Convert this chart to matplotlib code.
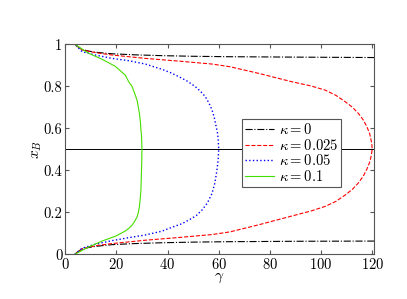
import matplotlib
matplotlib.use("Agg")
from matplotlib import pyplot as plt

plt.rcParams['font.family'] = 'serif'
plt.rcParams['font.serif'] = ['cmr10']
plt.rcParams['mathtext.fontset'] = 'cm'
plt.rcParams['axes.formatter.use_mathtext'] = True

# kappa = 0 (two branches)
gamma_k0_up = [3.8, 5.0, 6.6, 9.0, 12.0, 18.3, 27.0, 37.8, 50.0, 63.9, 90.0, 120.7]
xb_k0_up = [1.0, 0.988, 0.976, 0.968, 0.962, 0.955, 0.950, 0.946, 0.943, 0.941, 0.939, 0.937]
gamma_k0_lo = [3.8, 5.0, 6.6, 9.0, 12.0, 18.3, 27.0, 37.8, 50.0, 63.9, 90.0, 120.7]
xb_k0_lo = [0.0, 0.013, 0.024, 0.032, 0.038, 0.046, 0.051, 0.055, 0.058, 0.060, 0.062, 0.063]

# kappa = 0.025 (closed curve, bottom -> turning point -> top)
gamma_k1 = [3.8, 6.6, 12.0, 18.3, 31.3, 44.4, 57.4, 64.5, 75.5, 88.5, 96.0, 101.6, 105.8, 109.4, 112.3,
            114.6, 116.5, 117.9, 119.0, 119.6, 120.0,
            119.8, 119.0, 117.9, 116.5, 114.6, 112.3, 109.4, 105.8, 101.6, 96.0, 88.5, 75.5, 64.5,
            57.4, 44.4, 31.3, 18.3, 12.0, 6.6, 3.8]
xb_k1 = [0.0, 0.027, 0.041, 0.051, 0.067, 0.080, 0.094, 0.107, 0.140, 0.182, 0.206, 0.228, 0.252, 0.282, 0.310,
         0.340, 0.372, 0.405, 0.438, 0.468, 0.5,
         0.530, 0.575, 0.608, 0.640, 0.671, 0.700, 0.727, 0.757, 0.782, 0.802, 0.822, 0.862, 0.893,
         0.906, 0.920, 0.933, 0.949, 0.960, 0.973, 1.0]

# kappa = 0.05
gamma_k2 = [3.8, 6.6, 11.8, 18.3, 24.8, 31.3, 37.8, 41.8, 45.5, 48.3, 51.2, 53.5, 55.6, 57.4, 58.5, 59.3, 59.8, 60.0,
            59.8, 59.5, 59.0, 58.3, 57.4, 56.2, 54.8, 53.0, 50.9, 47.8, 44.4, 41.2, 37.8, 31.3, 24.8, 18.3, 11.8, 6.6, 3.8]
xb_k2 = [0.0, 0.029, 0.048, 0.065, 0.079, 0.092, 0.110, 0.129, 0.145, 0.163, 0.184, 0.211, 0.245, 0.290, 0.340, 0.400, 0.450, 0.5,
         0.550, 0.580, 0.608, 0.650, 0.687, 0.720, 0.750, 0.775, 0.798, 0.824, 0.846, 0.865, 0.881, 0.906, 0.922, 0.933, 0.949, 0.965, 1.0]

# kappa = 0.1
gamma_k3 = [3.8, 6.5, 9.2, 14.4, 19.6, 21.5, 23.5, 25.0, 26.1, 27.2, 28.1, 28.6, 29.0, 29.3, 29.6, 29.7, 29.9, 30.0,
            29.9, 29.8, 29.6, 29.4, 29.0, 28.6, 28.1, 27.2, 26.1, 24.8, 23.5, 19.6, 14.4, 9.2, 6.5, 3.8]
xb_k3 = [0.0, 0.018, 0.035, 0.063, 0.086, 0.098, 0.111, 0.125, 0.138, 0.158, 0.178, 0.200, 0.227, 0.260, 0.306, 0.350, 0.430, 0.5,
         0.540, 0.570, 0.592, 0.630, 0.671, 0.700, 0.733, 0.765, 0.800, 0.822, 0.853, 0.895, 0.929, 0.957, 0.978, 1.0]

fig = plt.figure(figsize=(4.07, 2.99), dpi=100)
ax = fig.add_axes([0.1602, 0.1495, 0.7587, 0.7023])

ax.axhline(0.5, color='k', lw=0.7, zorder=1)

l0, = ax.plot(gamma_k0_up, xb_k0_up, '-.', color='k', lw=0.8, label=r'$\kappa = 0$')
ax.plot(gamma_k0_lo, xb_k0_lo, '-.', color='k', lw=0.8)
l1, = ax.plot(gamma_k1, xb_k1, '--', color='r', lw=0.8, label=r'$\kappa = 0.025$')
l2, = ax.plot(gamma_k2, xb_k2, ':', color='b', lw=1.0, label=r'$\kappa = 0.05$')
l3, = ax.plot(gamma_k3, xb_k3, '-', color='#44dd00', lw=0.8, label=r'$\kappa = 0.1$')

ax.set_xlim(0, 120.7)
ax.set_ylim(0, 1)
ax.set_xticks([0, 20, 40, 60, 80, 100, 120])
ax.set_yticks([0, 0.2, 0.4, 0.6, 0.8, 1])
ax.set_yticklabels(['0', '0.2', '0.4', '0.6', '0.8', '1'])
ax.tick_params(direction='in', length=3, top=True, right=True, labelsize=10.5,
               color='#555555', pad=2)
for s in ax.spines.values():
    s.set_color('#555555')
    s.set_linewidth(0.8)

ax.set_xlabel(r'$\gamma$', fontsize=11, labelpad=-1)
ax.set_ylabel(r'$x_B$', fontsize=11, labelpad=0)

leg = ax.legend(handles=[l0, l1, l2, l3], loc='upper left', bbox_to_anchor=(0.573, 0.644),
                fontsize=10.5, frameon=True, fancybox=False, framealpha=1,
                edgecolor='#555555', borderpad=0.2, labelspacing=0.05,
                handlelength=2.0, handletextpad=0.3, borderaxespad=0)
leg.get_frame().set_linewidth(0.8)

fig.savefig('out.png', dpi=100)
